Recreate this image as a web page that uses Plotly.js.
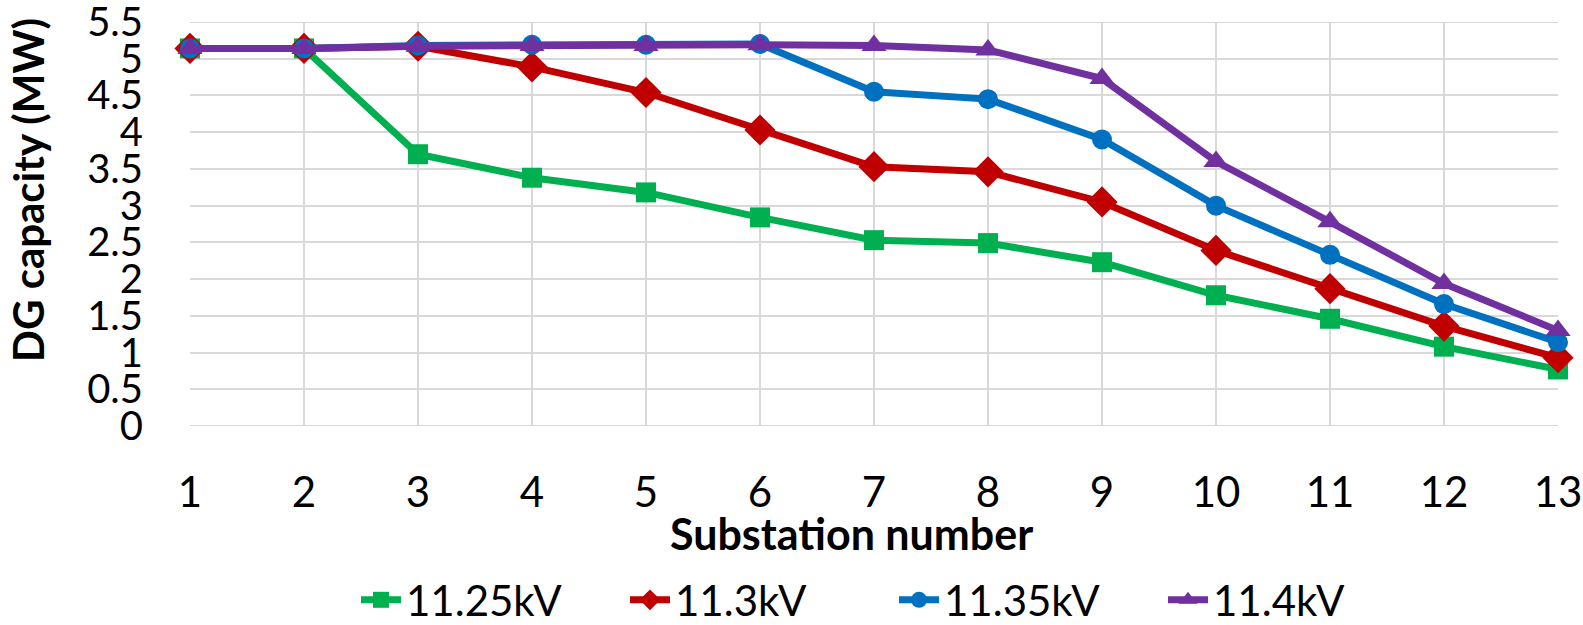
<!DOCTYPE html>
<html>
<head>
<meta charset="utf-8">
<script src="https://cdn.plot.ly/plotly-3.0.1.min.js"></script>
<style>html,body{margin:0;padding:0;background:#fff;}#chart{width:1583px;height:625px;}</style>
</head>
<body>
<div id="chart"></div>
<script>
const substations = [1,2,3,4,5,6,7,8,9,10,11,12,13];
const v1125 = [5.14,5.14,3.70,3.38,3.18,2.84,2.53,2.49,2.23,1.78,1.46,1.08,0.77];
const v113  = [5.14,5.14,5.17,4.89,4.54,4.03,3.53,3.46,3.05,2.39,1.87,1.36,0.93];
const v1135 = [5.14,5.14,5.18,5.19,5.19,5.20,4.55,4.45,3.90,3.00,2.33,1.66,1.14];
const v114  = [5.14,5.14,5.17,5.18,5.18,5.19,5.18,5.12,4.73,3.60,2.78,1.94,1.30];
const seriesNames = ['11.25kV','11.3kV','11.35kV','11.4kV'];
const yTicks = [0,0.5,1,1.5,2,2.5,3,3.5,4,4.5,5,5.5];
const yTickText = ['0','0.5','1','1.5','2','2.5','3','3.5','4','4.5','5','5.5'];

const colors = ['#00B050','#C00000','#0070C0','#7030A0'];
const symbols = ['square','diamond','circle','triangle-up'];
const sizes = [20,24,20,22];
const data = [v1125,v113,v1135,v114].map((ys,i)=>({
  x: substations, y: ys, name: seriesNames[i], type:'scatter', mode:'lines+markers',
  line:{color:colors[i], width:7},
  marker:{color:colors[i], symbol:symbols[i], size:sizes[i]},
  cliponaxis:false
}));

const font = 'Lato, "Open Sans", sans-serif';
const layout = {
  width:1583, height:625,
  margin:{l:190, r:25, t:22, b:199, autoexpand:false},
  paper_bgcolor:'#fff', plot_bgcolor:'#fff',
  font:{family:font, color:'#000', size:42},
  showlegend:true,
  legend:{orientation:'h', x:(356-190)/1368, xanchor:'left', y:(426-600)/404, yanchor:'middle',
          font:{family:font, size:42, color:'#000'}, itemwidth:40, traceorder:'normal',
          entrywidth:214, entrywidthmode:'pixels'},
  xaxis:{range:[1,13], tickvals:substations, ticktext:substations.map(String),
         showgrid:true, gridcolor:'#D9D9D9', gridwidth:2, zeroline:false,
         showline:false, ticks:'', ticklabelstandoff:38, ticklabeloverflow:'allow',
         tickfont:{family:font, size:42, color:'#000'}},
  yaxis:{range:[0,5.5], tickvals:yTicks, ticktext:yTickText,
         showgrid:true, gridcolor:'#D9D9D9', gridwidth:2, zeroline:false,
         showline:false, ticks:'', ticklabelstandoff:46, ticklabeloverflow:'allow',
         tickfont:{family:font, size:40, color:'#000'}},
  shapes:[
    {type:'line', xref:'x', yref:'y', x0:1, x1:13, y0:0, y1:0, line:{color:'#D9D9D9', width:2}, layer:'below'},
    {type:'line', xref:'x', yref:'y', x0:1, x1:13, y0:5.5, y1:5.5, line:{color:'#D9D9D9', width:2}, layer:'below'}
  ],
  annotations:[
    {text:'<b>Substation number</b>', xref:'paper', yref:'paper', x:(851-190)/1368, y:(426-533)/404,
     xanchor:'center', yanchor:'middle', showarrow:false, font:{family:font, size:43, color:'#000'}},
    {text:'<b>DG capacity (MW)</b>', xref:'paper', yref:'paper', x:(28-190)/1368, y:(426-190)/404,
     xanchor:'center', yanchor:'middle', showarrow:false, textangle:-90, font:{family:font, size:42, color:'#000'}}
  ]
};
Plotly.newPlot('chart', data, layout, {displayModeBar:false, staticPlot:true});
</script>
</body>
</html>
